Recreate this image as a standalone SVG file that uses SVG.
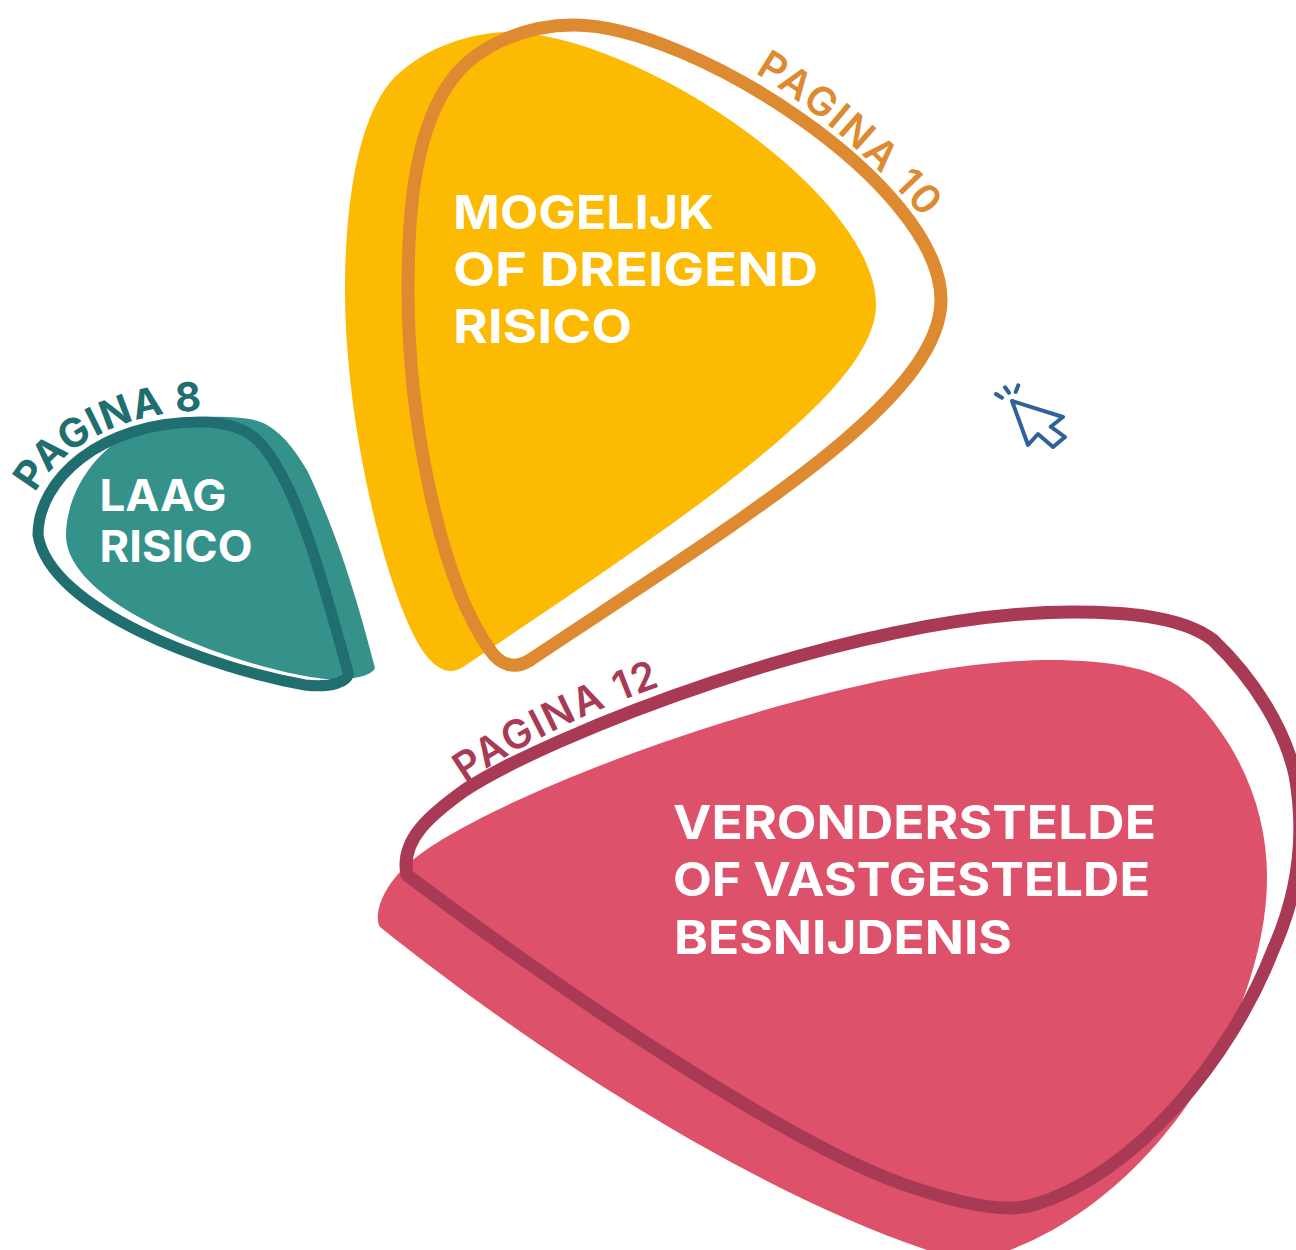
<svg xmlns="http://www.w3.org/2000/svg" width="1296" height="1250" viewBox="0 0 1296 1250">
<style>
text{font-family:"Inter","Noto Sans","Liberation Sans",sans-serif;font-weight:700}
.m{fill:#fff;font-size:46px}
.s{fill:#fff;font-size:44px}
.l{font-size:40px}
.o{fill:none;stroke-width:13;stroke-linejoin:round}
</style>
<defs>
<path id="p8" d="M35 493C58 450 120 412 200 411"/>
<path id="p10" d="M755 73C810 105 880 165 935 232"/>
<path id="p12" d="M465 783C520 745 590 710 672 682"/>
</defs>
<rect width="1296" height="1250" fill="#fff"/>
<g id="node-mogelijk">
<path fill="#fcba03" d="M507 32C640 34 876 195 876 305C876 390 690 515 463 667C450 675 440 670 430 660C395 625 345 440 345 290C345 215 355 115 397 75C427 47 470 33 507 32Z"/>
<path class="o" stroke="#de8a30" d="M573 25C690 24 941 185 941 300C941 400 740 520 530 660C515 670 500 665 490 650C440 580 408 420 408 290C408 200 417 125 453 78C480 43 530 25 573 25Z"/>
<text class="m" x="453" y="229" textLength="261" lengthAdjust="spacingAndGlyphs">MOGELIJK</text>
<text class="m" x="453" y="286" textLength="365" lengthAdjust="spacingAndGlyphs">OF DREIGEND</text>
<text class="m" x="453" y="343" textLength="179" lengthAdjust="spacingAndGlyphs">RISICO</text>
<text class="l" fill="#de8a30" letter-spacing="2.4" style="font-weight:600"><textPath href="#p10">PAGINA 10</textPath></text>
</g>
<g id="node-laag">
<path fill="#35928b" d="M200 417C235 416 255 418 267 425C285 435 298 455 308 472C335 530 355 590 375 668C372 676 350 681 325 679C255 672 66 610 66 535C66 490 105 417 200 417Z"/>
<path class="o" style="stroke-width:11" stroke="#206e6f" d="M200 422C225 422 248 428 262 445C300 490 325 590 348 672C350 682 330 688 305 685C210 668 50 610 38 535C38 480 100 422 200 422Z"/>
<text class="s" x="99.500" y="511" textLength="127" lengthAdjust="spacingAndGlyphs">LAAG</text>
<text class="s" x="99.500" y="562" textLength="153" lengthAdjust="spacingAndGlyphs">RISICO</text>
<text class="l" fill="#206e6f" letter-spacing="0.9"><textPath href="#p8">PAGINA 8</textPath></text>
</g>
<g id="node-besnijdenis">
<path fill="#de516b" d="M1050 660C1110 660 1160 668 1190 695C1240 745 1267 810 1267 877C1267 1010 1165 1190 1010 1250L927 1250C750 1190 540 1055 380 927C374 918 378 888 415 858C500 790 850 660 1050 660Z"/>
<path class="o" stroke="#a83a55" d="M1073 612C1120 612 1180 615 1213 640C1255 680 1285 730 1295 775C1305 830 1300 890 1273 950C1230 1060 1135 1175 1033 1205C1010 1212 970 1208 900 1183C800 1147 600 1020 407 875C400 840 430 815 465 790C540 740 850 612 1073 612Z"/>
<text class="m" x="673" y="839" textLength="483" lengthAdjust="spacingAndGlyphs">VERONDERSTELDE</text>
<text class="m" x="673" y="896" textLength="477" lengthAdjust="spacingAndGlyphs">OF VASTGESTELDE</text>
<text class="m" x="674" y="954" textLength="338" lengthAdjust="spacingAndGlyphs">BESNIJDENIS</text>
<text class="l" fill="#a83a55" letter-spacing="2" style="font-weight:600"><textPath href="#p12">PAGINA 12</textPath></text>
</g>
<g id="cursor" fill="none" stroke="#2f6296" stroke-width="4" stroke-linecap="round" stroke-linejoin="round">
<path d="M1012 401L1063 417L1050.700 426.700L1065 437L1053 447L1038 434L1028 445Z"/>
<path d="M996 394L1002 397.700M1005 387.300L1009 392.700M1018.300 385.300L1015.700 392"/>
</g>
<g id="connectors"/>
</svg>
